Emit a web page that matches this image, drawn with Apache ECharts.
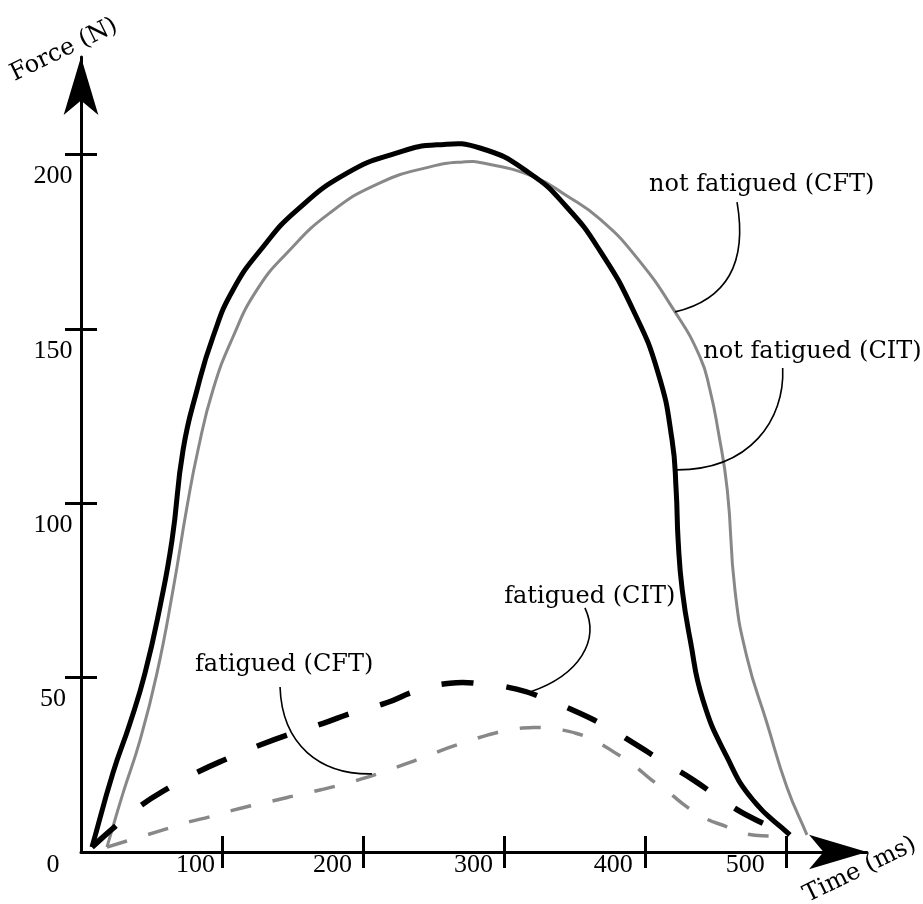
<!DOCTYPE html>
<html>
<head>
<meta charset="utf-8">
<script src="https://cdn.jsdelivr.net/npm/echarts@6/dist/echarts.min.js"></script>
<style>html,body{margin:0;padding:0;background:#fff}#c{width:923px;height:904px}</style>
</head>
<body>
<div id="c"></div>
<script>
// ---------------- DATA ----------------
// not fatigued (CIT) - black solid
const nfCIT_t = [7.8, 22.7, 34.8, 45.4, 56, 64.6, 72.4, 82.3, 93.6, 107.8, 129.1, 153.2, 188.7, 224.2, 252.5, 283, 318.5, 344.7, 368.2, 391.6, 409.4, 419.3, 422.2, 423.6, 426.5, 432.2, 441.2, 458.3, 476.7, 502.9];
const nfCIT_F = [1.4, 22.7, 37, 51.3, 70.3, 89.5, 115.3, 132.5, 147.7, 161.2, 173.5, 184.1, 194.7, 200.5, 202.8, 201.9, 194.6, 184.9, 172.4, 155.5, 137.4, 118.2, 103.8, 89.5, 75.2, 60.8, 43.6, 27.2, 14.9, 4.9];
// not fatigued (CFT) - gray solid
const nfCFT_t = [18.4, 29.8, 41.9, 53.9, 65.3, 75.2, 83, 93.6, 107.8, 124.8, 146.1, 176.6, 212.1, 247.6, 271, 285.2, 320.9, 344.6, 368.2, 394.4, 421.4, 439.1, 446.2, 451.9, 458.5, 463.9, 472.4, 486.6, 500.8, 515];
const nfCFT_F = [1.4, 16.9, 32.1, 51.3, 75.2, 99, 115.3, 132.5, 147.7, 161.2, 171.8, 183.3, 191.9, 196.5, 197.9, 197.6, 193.7, 188.2, 181.5, 170.4, 154.9, 142, 132.5, 121, 103.8, 75.2, 55.9, 37, 18.6, 4.9];
// fatigued (CIT) - black dashed
const fCIT_t = [7.8, 24.1, 43, 61.9, 83.2, 104.5, 127, 149.4, 171.8, 193.1, 216.8, 238, 261.7, 284.2, 309, 330.3, 352.7, 372.8, 394.1, 413, 434.3, 453.2, 474.5, 502.8];
const fCIT_F = [1.4, 7.3, 13.5, 18.3, 23, 26.9, 30.7, 34, 36.9, 40, 42.8, 46.2, 48.4, 48.2, 46.7, 43.8, 40, 35.9, 30.7, 25.9, 20.7, 15.4, 10.1, 4.9];
// fatigued (CFT) - gray dashed
const fCFT_t = [18.4, 46.6, 61.9, 77.3, 91.5, 108, 123.4, 138.8, 154.1, 169.5, 183.7, 200.2, 214.4, 229.8, 244, 259.4, 273.5, 288.9, 304.3, 320.8, 335, 351.6, 365.8, 378.7, 391.7, 404.7, 417.7, 429.6, 442.6, 457.9, 472, 488.7, 502.8];
const fCFT_F = [1.4, 4.9, 6.8, 8.7, 10.1, 12, 13.5, 14.9, 16.4, 17.8, 19.2, 21.1, 23, 25.2, 27.3, 29.7, 31.6, 33.6, 35, 35.7, 35.3, 34, 31.6, 28.5, 25, 20.7, 16.8, 13, 9.7, 7.3, 5.2, 4.6, 4.6];

const xTickValues = [100, 200, 300, 400, 500];
const yTickValues = [50, 100, 150, 200];
const yLabelValues = [0, 50, 100, 150, 200];
const seriesNames = ['not fatigued (CFT)', 'not fatigued (CIT)', 'fatigued (CIT)', 'fatigued (CFT)'];
const xAxisName = 'Time (ms)';
const yAxisName = 'Force (N)';

// ---------------- LAYOUT / STYLE ----------------
const X_MAX = 557.6, Y_MAX = 228;
const BLACK = '#000', GRAY = '#888';
const SERIF = "'DejaVu Serif', serif";
const NUMFONT = "'Liberation Serif', serif";
const xLabelGap = { 100: 7, 200: 11, 300: 11, 400: 12, 500: 21 };
// annotation label centres (data coords) and leader curves (data coords, cubic bezier)
const labelPos = [[482.9, 191.4], [518.9, 143.6], [360.9, 73.3], [144.1, 53.7]];
const leaders = [
  [[465.4, 186.4], [473.1, 168.4], [456.8, 158.3], [421.4, 154.9]],
  [[497.8, 138.8], [499.4, 123.9], [474.6, 109.6], [422.8, 109.6]],
  [[357.5, 70], [368.2, 60.8], [354, 50.8], [318.5, 45.9]],
  [[141.2, 47.3], [142.6, 30.7], [169.5, 22.1], [206.4, 22.4]]
];

function zip(a, b) { return a.map((v, i) => [v, b[i]]); }

// smooth cubic spline through pixel points (tangent from neighbours, handles scaled by segment length)
function smoothPath(pts, k) {
  const n = pts.length;
  const len = (a, b) => Math.hypot(b[0] - a[0], b[1] - a[1]);
  const tan = pts.map((p, i) => {
    const a = pts[Math.max(i - 1, 0)], b = pts[Math.min(i + 1, n - 1)];
    return [b[0] - a[0], b[1] - a[1]];
  });
  const segLen = [];
  for (let i = 0; i < n - 1; i++) segLen.push(len(pts[i], pts[i + 1]));
  let d = 'M' + pts[0][0].toFixed(2) + ' ' + pts[0][1].toFixed(2);
  for (let i = 0; i < n - 1; i++) {
    const p = pts[i], q = pts[i + 1];
    const pPrev = i > 0 ? segLen[i - 1] : 0, pNext = segLen[i];
    const qPrev = segLen[i], qNext = i + 1 < n - 1 ? segLen[i + 1] : 0;
    const rp = k * pNext / (pPrev + pNext);
    const rq = k * qPrev / (qPrev + qNext);
    const c1 = [p[0] + tan[i][0] * rp, p[1] + tan[i][1] * rp];
    const c2 = [q[0] - tan[i + 1][0] * rq, q[1] - tan[i + 1][1] * rq];
    d += ' C' + c1[0].toFixed(2) + ' ' + c1[1].toFixed(2) + ' ' + c2[0].toFixed(2) + ' ' + c2[1].toFixed(2) + ' ' + q[0].toFixed(2) + ' ' + q[1].toFixed(2);
  }
  return d;
}

function curveSeries(name, tArr, fArr, color, width, dash, z) {
  return {
    type: 'custom', name: name, coordinateSystem: 'cartesian2d', xAxisIndex: 0, yAxisIndex: 0,
    data: zip(tArr, fArr), encode: { x: 0, y: 1 }, z: z, clip: false, silent: true,
    renderItem: function (params, api) {
      if (params.dataIndex !== 0) return null;
      const pts = tArr.map((t, i) => api.coord([t, fArr[i]]));
      return {
        type: 'path',
        shape: { pathData: smoothPath(pts, 0.5) },
        style: { fill: 'none', stroke: color, lineWidth: width, lineDash: dash || null, lineCap: 'butt', lineJoin: 'round' }
      };
    }
  };
}

const chart = echarts.init(document.getElementById('c'), null, { renderer: 'canvas' });

const tickStyle = { color: BLACK, width: 3 };
const xRich = {};
xTickValues.forEach(v => { xRich['x' + v] = { fontFamily: NUMFONT, fontSize: 26, color: BLACK, padding: [0, xLabelGap[v], 0, 0] }; });

function xAxisDef(inside, main) {
  return {
    type: 'value', min: 0, max: X_MAX, position: 'bottom',
    axisLine: main ? { show: true, onZero: false, symbol: ['none', 'arrow'], symbolSize: [26, 58], lineStyle: { color: BLACK, width: 3 } } : { show: false },
    axisTick: { show: true, inside: inside, length: 16, customValues: xTickValues, lineStyle: tickStyle },
    axisLabel: main ? {
      show: true, customValues: xTickValues, margin: 13, align: 'right', verticalAlign: 'middle',
      formatter: v => '{x' + v + '|' + v + '}', rich: xRich,
      fontFamily: NUMFONT, fontSize: 26, color: BLACK
    } : { show: false },
    splitLine: { show: false }
  };
}
function yAxisDef(inside, main) {
  return {
    type: 'value', min: 0, max: Y_MAX, position: 'left',
    axisLine: main ? { show: true, onZero: false, symbol: ['none', 'arrow'], symbolSize: [26, 58], lineStyle: { color: BLACK, width: 3 } } : { show: false },
    axisTick: { show: true, inside: inside, length: 16, customValues: yTickValues, lineStyle: tickStyle },
    axisLabel: main ? {
      show: true, customValues: yLabelValues, margin: 28, align: 'center', verticalAlign: 'middle',
      formatter: v => (v === 0 ? '{z|0}' : '{n|' + v + '}'),
      rich: {
        n: { fontFamily: NUMFONT, fontSize: 26, color: BLACK, padding: [44, 0, 0, 0] },
        z: { fontFamily: NUMFONT, fontSize: 26, color: BLACK, padding: [26, 0, 0, 0] }
      }
    } : { show: false },
    splitLine: { show: false }
  };
}

chart.setOption({
  animation: false,
  backgroundColor: '#fff',
  grid: { left: 81, top: 57, width: 786, height: 795, containLabel: false, outerBoundsMode: 'none' },
  xAxis: [xAxisDef(false, true), xAxisDef(true, false)],
  yAxis: [yAxisDef(false, true), yAxisDef(true, false)],
  series: [
    curveSeries(seriesNames[0], nfCFT_t, nfCFT_F, GRAY, 3, null, 2),
    curveSeries(seriesNames[1], nfCIT_t, nfCIT_F, BLACK, 5, null, 3),
    curveSeries(seriesNames[2], fCIT_t, fCIT_F, BLACK, 5.5, [32, 33], 3),
    curveSeries(seriesNames[3], fCFT_t, fCFT_F, GRAY, 3.5, [21, 22], 2)
  ]
});

function px(p) { return chart.convertToPixel({ xAxisIndex: 0, yAxisIndex: 0 }, p); }
const graphics = [];
labelPos.forEach((p, i) => {
  const q = px(p);
  graphics.push({ type: 'text', x: q[0], y: q[1], z: 10,
    style: { text: seriesNames[i], fontFamily: SERIF, fontSize: 24, fill: BLACK, align: 'center', verticalAlign: 'middle' } });
});
leaders.forEach(L => {
  const a = px(L[0]), b = px(L[1]), c = px(L[2]), d = px(L[3]);
  graphics.push({ type: 'bezierCurve', z: 10,
    shape: { x1: a[0], y1: a[1], cpx1: b[0], cpy1: b[1], cpx2: c[0], cpy2: c[1], x2: d[0], y2: d[1] },
    style: { stroke: BLACK, lineWidth: 1.6, fill: null } });
});
graphics.push({ type: 'text', x: 64, y: 50, rotation: 26 * Math.PI / 180, z: 10,
  style: { text: yAxisName, fontFamily: SERIF, fontSize: 24, fill: BLACK, align: 'center', verticalAlign: 'middle' } });
graphics.push({ type: 'text', x: 860, y: 870, rotation: 26 * Math.PI / 180, z: 10,
  style: { text: xAxisName, fontFamily: SERIF, fontSize: 24, fill: BLACK, align: 'center', verticalAlign: 'middle' } });
chart.setOption({ graphic: graphics });
</script>
</body>
</html>
